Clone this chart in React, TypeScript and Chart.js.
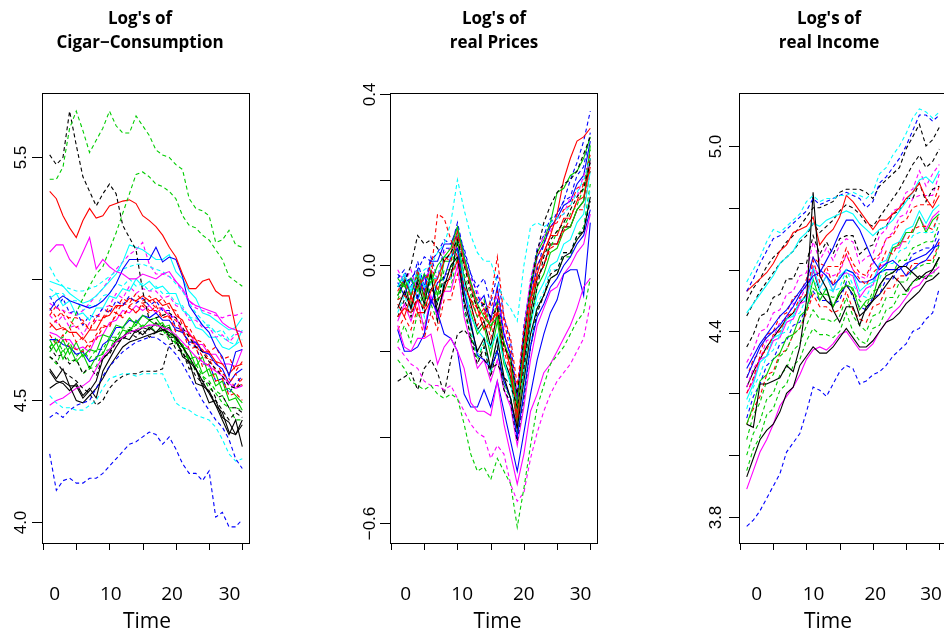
import React, { useEffect, useRef } from 'react';
import { Chart, registerables } from 'chart.js';

Chart.register(...registerables);

// ---------- DATA ----------
const time = [1, 2, 3, 4, 5, 6, 7, 8, 9, 10, 11, 12, 13, 14, 15, 16, 17, 18, 19, 20, 21, 22, 23, 24, 25, 26, 27, 28, 29, 30];

// Panel 1: log cigarette consumption
const cons01 = [5.41,5.41,5.46,5.62,5.69,5.61,5.52,5.57,5.62,5.69,5.63,5.60,5.60,5.67,5.63,5.59,5.53,5.51,5.50,5.47,5.45,5.33,5.29,5.28,5.26,5.15,5.16,5.20,5.14,5.13];
const cons02 = [5.51,5.47,5.50,5.69,5.55,5.42,5.36,5.30,5.35,5.39,5.35,5.22,5.17,5.12,4.95,4.83,4.84,4.85,4.86,4.84,4.80,4.76,4.72,4.70,4.66,4.63,4.60,4.56,4.55,4.57];
const cons03 = [4.72,4.75,4.76,4.80,4.86,4.92,4.97,5.02,5.05,5.12,5.19,5.27,5.35,5.43,5.44,5.42,5.39,5.38,5.36,5.33,5.26,5.22,5.21,5.18,5.16,5.12,5.08,5.01,4.99,4.97];
const cons04 = [5.36,5.33,5.26,5.21,5.17,5.24,5.29,5.25,5.26,5.30,5.31,5.32,5.325,5.31,5.26,5.24,5.215,5.18,5.13,5.09,5.02,4.96,4.96,4.99,5.00,4.95,4.93,4.93,4.80,4.72];
const cons05 = [5.11,5.14,5.14,5.08,5.05,5.11,5.17,5.04,5.08,5.05,5.03,5.02,5.00,5.00,5.02,5.01,5.00,5.02,5.03,4.99,4.96,4.91,4.89,4.88,4.87,4.86,4.82,4.80,4.79,4.78];
const cons06 = [4.28,4.13,4.17,4.18,4.16,4.16,4.18,4.18,4.20,4.23,4.26,4.29,4.32,4.33,4.35,4.37,4.36,4.32,4.35,4.30,4.24,4.20,4.20,4.17,4.21,4.02,4.04,3.98,3.98,4.01];
const cons07 = [4.43,4.45,4.43,4.46,4.48,4.49,4.50,4.55,4.60,4.64,4.67,4.70,4.72,4.74,4.75,4.76,4.76,4.74,4.72,4.69,4.65,4.60,4.55,4.50,4.46,4.42,4.39,4.34,4.26,4.22];
const cons08 = [4.52,4.49,4.47,4.47,4.46,4.46,4.48,4.50,4.55,4.59,4.60,4.61,4.61,4.60,4.61,4.61,4.61,4.61,4.55,4.49,4.47,4.46,4.44,4.43,4.42,4.39,4.34,4.28,4.25,4.26];
const cons09 = [4.68,4.66,4.62,4.60,4.58,4.55,4.53,4.48,4.50,4.55,4.58,4.60,4.61,4.61,4.62,4.62,4.62,4.63,4.73,4.74,4.70,4.65,4.60,4.57,4.53,4.50,4.46,4.42,4.45,4.43];
const cons10 = [4.55,4.57,4.58,4.56,4.50,4.49,4.52,4.55,4.59,4.64,4.68,4.72,4.74,4.75,4.76,4.77,4.78,4.79,4.78,4.76,4.72,4.68,4.63,4.58,4.53,4.48,4.42,4.36,4.42,4.31];
const cons11 = [4.48,4.50,4.51,4.53,4.55,4.56,4.58,4.63,4.68,4.71,4.74,4.76,4.78,4.79,4.80,4.81,4.81,4.80,4.79,4.77,4.74,4.71,4.68,4.66,4.64,4.62,4.60,4.57,4.55,4.56];
const cons12 = [4.87,4.91,4.93,4.91,4.90,4.89,4.88,4.89,4.91,4.94,4.98,5.04,5.08,5.08,5.08,5.08,5.13,5.07,5.09,5.08,5.01,4.89,4.85,4.81,4.78,4.72,4.68,4.60,4.70,4.71];
const cons13 = [4.99,4.98,4.97,4.94,4.92,4.90,4.91,4.93,4.96,4.99,5.02,5.07,5.14,5.13,5.12,5.10,5.08,5.08,5.10,5.03,5.00,4.95,4.92,4.86,4.85,4.83,4.81,4.79,4.80,4.84];
const cons14 = [5.05,5.00,4.97,4.96,4.95,4.95,4.96,4.97,4.99,5.01,5.03,5.04,5.05,5.06,5.06,5.05,5.04,5.03,5.01,4.98,4.95,4.90,4.86,4.83,4.80,4.78,4.76,4.74,4.73,4.75];
const cons15 = [4.90,4.88,4.87,4.86,4.85,4.87,4.90,4.93,4.96,5.00,5.04,5.07,5.10,5.12,5.15,5.06,5.02,5.02,5.01,4.99,4.95,4.91,4.88,4.87,4.86,4.85,4.84,4.85,4.85,4.86];
const cons16 = [4.88,4.84,4.87,4.83,4.80,4.82,4.79,4.85,4.84,4.89,4.88,4.92,4.90,4.94,4.91,4.93,4.90,4.92,4.88,4.87,4.81,4.80,4.75,4.74,4.70,4.72,4.67,4.68,4.62,4.66];
const cons17 = [4.80,4.83,4.79,4.80,4.74,4.76,4.72,4.77,4.81,4.80,4.86,4.84,4.89,4.86,4.89,4.86,4.89,4.84,4.85,4.78,4.79,4.71,4.72,4.64,4.65,4.58,4.59,4.52,4.53,4.50];
const cons18 = [4.75,4.70,4.75,4.69,4.74,4.68,4.71,4.70,4.77,4.76,4.81,4.80,4.84,4.81,4.85,4.83,4.84,4.80,4.81,4.74,4.73,4.67,4.68,4.61,4.63,4.56,4.58,4.50,4.51,4.46];
const cons19 = [4.70,4.74,4.67,4.72,4.66,4.69,4.63,4.68,4.69,4.75,4.74,4.79,4.78,4.83,4.80,4.83,4.81,4.82,4.77,4.77,4.72,4.71,4.64,4.68,4.60,4.61,4.54,4.55,4.52,4.49];
const cons20 = [4.62,4.58,4.57,4.54,4.57,4.52,4.55,4.51,4.62,4.67,4.72,4.76,4.75,4.79,4.77,4.80,4.78,4.81,4.76,4.76,4.68,4.66,4.57,4.56,4.49,4.50,4.43,4.41,4.36,4.40];
const cons21 = [4.72,4.68,4.69,4.65,4.67,4.61,4.64,4.60,4.68,4.69,4.74,4.75,4.78,4.76,4.79,4.76,4.78,4.77,4.77,4.71,4.70,4.63,4.63,4.58,4.57,4.51,4.52,4.47,4.47,4.45];
const cons22 = [4.92,4.94,4.89,4.91,4.85,4.86,4.83,4.88,4.88,4.93,4.92,4.96,4.95,5.00,4.97,4.99,4.96,4.97,4.94,4.94,4.87,4.85,4.80,4.79,4.76,4.76,4.72,4.71,4.73,4.79];
const cons23 = [4.93,4.88,4.92,4.86,4.87,4.81,4.85,4.84,4.88,4.86,4.91,4.89,4.93,4.90,4.92,4.89,4.91,4.87,4.87,4.80,4.79,4.73,4.72,4.65,4.65,4.58,4.59,4.53,4.57,4.60];
const cons24 = [4.85,4.82,4.85,4.80,4.81,4.77,4.82,4.83,4.88,4.89,4.94,4.92,4.97,4.94,4.96,4.95,4.95,4.92,4.93,4.89,4.88,4.83,4.83,4.80,4.80,4.76,4.77,4.74,4.77,4.78];
const cons25 = [4.77,4.73,4.77,4.72,4.71,4.70,4.74,4.75,4.80,4.81,4.85,4.85,4.88,4.86,4.90,4.87,4.87,4.84,4.85,4.80,4.79,4.74,4.73,4.68,4.67,4.62,4.62,4.57,4.61,4.56];
const cons26 = [4.68,4.65,4.71,4.66,4.67,4.61,4.63,4.64,4.70,4.71,4.76,4.76,4.80,4.79,4.81,4.80,4.81,4.78,4.78,4.73,4.72,4.66,4.65,4.60,4.58,4.54,4.52,4.47,4.47,4.46];
const cons27 = [4.75,4.75,4.73,4.72,4.69,4.70,4.66,4.67,4.73,4.75,4.80,4.80,4.83,4.82,4.85,4.84,4.86,4.83,4.83,4.79,4.78,4.74,4.74,4.70,4.69,4.65,4.63,4.57,4.61,4.63];
const cons28 = [4.63,4.59,4.63,4.56,4.56,4.51,4.54,4.58,4.67,4.70,4.75,4.76,4.79,4.78,4.80,4.79,4.82,4.79,4.80,4.75,4.73,4.66,4.63,4.56,4.54,4.48,4.45,4.37,4.36,4.42];
const cons29 = [4.96,4.94,4.94,4.91,4.91,4.87,4.89,4.89,4.93,4.94,4.98,4.97,5.00,4.97,4.98,4.95,4.97,4.94,4.94,4.90,4.89,4.84,4.84,4.81,4.81,4.78,4.79,4.75,4.78,4.79];
const cons30 = [4.82,4.79,4.80,4.78,4.78,4.75,4.79,4.79,4.84,4.85,4.89,4.89,4.92,4.91,4.93,4.91,4.92,4.89,4.90,4.85,4.83,4.77,4.75,4.70,4.70,4.66,4.65,4.61,4.64,4.65];
const cons31 = [4.78,4.77,4.75,4.75,4.71,4.72,4.70,4.76,4.77,4.82,4.83,4.87,4.86,4.89,4.87,4.89,4.86,4.88,4.85,4.84,4.79,4.78,4.73,4.73,4.69,4.69,4.65,4.65,4.64,4.71];
const cons32 = [4.72,4.76,4.70,4.74,4.68,4.71,4.67,4.71,4.71,4.76,4.76,4.80,4.79,4.81,4.80,4.81,4.78,4.79,4.75,4.74,4.69,4.67,4.62,4.60,4.55,4.53,4.49,4.47,4.42,4.42];
const cons33 = [4.85,4.89,4.85,4.84,4.84,4.83,4.79,4.83,4.83,4.87,4.86,4.90,4.89,4.91,4.90,4.91,4.88,4.88,4.84,4.83,4.78,4.77,4.72,4.71,4.67,4.66,4.61,4.59,4.55,4.59];

const consSeries = [cons01,cons02,cons03,cons04,cons05,cons06,cons07,cons08,cons09,cons10,cons11,cons12,cons13,cons14,cons15,cons16,cons17,cons18,cons19,cons20,cons21,cons22,cons23,cons24,cons25,cons26,cons27,cons28,cons29,cons30,cons31,cons32,cons33];
const consColors = ['green','black','green','red','magenta','blue','blue','cyan','black','black','magenta','blue','cyan','cyan','magenta','red','red','green','green','black','black','cyan','blue','magenta','red','green','blue','black','cyan','red','magenta','green','red'];
const consDashed = [1,1,1,0,0,1,1,1,1,0,0,0,0,1,1,1,1,0,0,0,1,0,1,1,1,1,0,0,1,0,0,1,1];

// Panel 2: log real prices
const price01 = [-0.22,-0.24,-0.27,-0.28,-0.29,-0.28,-0.30,-0.31,-0.30,-0.31,-0.37,-0.44,-0.48,-0.47,-0.50,-0.45,-0.48,-0.51,-0.61,-0.52,-0.42,-0.33,-0.28,-0.23,-0.21,-0.19,-0.16,-0.13,-0.11,-0.03];
const price02 = [-0.19,-0.21,-0.23,-0.24,-0.27,-0.28,-0.28,-0.29,-0.28,-0.31,-0.34,-0.37,-0.39,-0.40,-0.45,-0.42,-0.44,-0.51,-0.55,-0.53,-0.45,-0.39,-0.34,-0.30,-0.27,-0.25,-0.23,-0.20,-0.17,-0.09];
const price03 = [-0.14,-0.19,-0.20,-0.17,-0.17,-0.16,-0.23,-0.19,-0.17,-0.20,-0.24,-0.32,-0.34,-0.34,-0.35,-0.27,-0.37,-0.44,-0.51,-0.44,-0.34,-0.30,-0.25,-0.23,-0.20,-0.17,-0.14,-0.10,-0.05,-0.03];
const price04 = [-0.15,-0.20,-0.20,-0.19,-0.16,-0.08,-0.11,-0.16,-0.17,-0.20,-0.30,-0.33,-0.33,-0.29,-0.33,-0.27,-0.34,-0.41,-0.48,-0.39,-0.30,-0.22,-0.16,-0.11,-0.08,-0.02,-0.01,-0.01,-0.07,0.10];
const price05 = [-0.27,-0.26,-0.25,-0.29,-0.24,-0.22,-0.25,-0.30,-0.22,-0.16,-0.15,-0.17,-0.20,-0.22,-0.24,-0.23,-0.26,-0.28,-0.33,-0.24,-0.13,-0.05,0.02,0.06,0.08,0.10,0.13,0.16,0.18,0.24];
const price06 = [-0.05,-0.03,-0.05,-0.03,-0.01,0.00,0.03,0.05,0.10,0.20,0.13,0.07,0.03,0.01,0.01,-0.04,-0.08,-0.10,-0.13,0.00,0.09,0.10,0.09,0.10,0.11,0.12,0.14,0.17,0.20,0.25];
const price07 = [-0.08,-0.07,-0.09,-0.05,-0.03,-0.02,0.12,0.11,0.06,0.02,-0.05,-0.08,-0.10,-0.13,-0.08,0.02,-0.12,-0.17,-0.28,-0.15,-0.07,-0.03,0.00,0.04,0.05,0.08,0.11,0.15,0.19,0.22];
const price08 = [-0.05,-0.04,0.00,0.07,0.05,0.06,0.04,0.01,0.03,0.06,0.00,-0.06,-0.10,-0.09,-0.12,-0.10,-0.19,-0.22,-0.30,-0.17,-0.05,0.03,0.10,0.14,0.17,0.19,0.20,0.22,0.26,0.30];
const price09 = [-0.03,-0.05,-0.03,-0.06,-0.02,-0.04,0.00,0.02,0.04,0.09,0.02,-0.04,-0.09,-0.12,-0.14,-0.12,-0.18,-0.22,-0.33,-0.18,-0.05,0.03,0.06,0.10,0.17,0.18,0.21,0.22,0.25,0.30];
const price10 = [-0.12,-0.10,-0.11,-0.08,-0.10,-0.06,-0.03,0.01,0.03,0.08,0.01,-0.05,-0.10,-0.15,-0.13,-0.11,-0.18,-0.24,-0.35,-0.20,-0.08,-0.02,0.03,0.07,0.12,0.20,0.25,0.29,0.30,0.32];
const price11 = [-0.02,-0.04,-0.03,-0.01,0.02,0.01,0.03,0.06,0.05,0.07,0.04,-0.02,-0.07,-0.10,-0.12,-0.08,-0.16,-0.21,-0.31,-0.16,-0.06,-0.01,0.05,0.10,0.12,0.15,0.20,0.24,0.29,0.36];
const price12 = [-0.10,-0.06,-0.10,-0.04,-0.09,-0.02,-0.11,-0.05,0.00,0.02,-0.08,-0.14,-0.20,-0.17,-0.24,-0.17,-0.26,-0.31,-0.38,-0.27,-0.16,-0.10,-0.07,-0.03,-0.02,0.02,0.03,0.06,0.08,0.16];
const price13 = [-0.06,-0.03,-0.08,-0.01,-0.07,0.01,-0.06,0.02,0.01,0.07,0.00,-0.04,-0.08,-0.09,-0.10,-0.06,-0.13,-0.20,-0.32,-0.17,-0.05,0.02,0.05,0.09,0.10,0.13,0.14,0.18,0.19,0.26];
const price14 = [-0.08,-0.04,-0.09,-0.05,-0.10,-0.03,-0.08,-0.01,-0.01,0.06,-0.02,-0.07,-0.12,-0.08,-0.15,-0.08,-0.18,-0.23,-0.36,-0.20,-0.09,-0.02,0.03,0.04,0.08,0.09,0.12,0.14,0.18,0.27];
const price15 = [-0.05,-0.02,-0.06,-0.01,-0.05,-0.03,-0.03,0.02,0.02,0.08,-0.04,-0.12,-0.15,-0.17,-0.19,-0.16,-0.22,-0.28,-0.34,-0.24,-0.14,-0.07,-0.04,0.00,0.01,0.05,0.06,0.10,0.12,0.22];
const price16 = [-0.04,-0.07,-0.03,-0.08,-0.02,-0.09,-0.04,-0.03,0.02,0.04,-0.06,-0.13,-0.21,-0.22,-0.24,-0.20,-0.27,-0.31,-0.40,-0.30,-0.19,-0.12,-0.09,-0.05,-0.03,0.00,0.02,0.05,0.07,0.13];
const price17 = [-0.01,-0.04,-0.01,-0.06,-0.03,-0.01,-0.03,0.03,0.04,0.04,0.01,-0.03,-0.06,-0.10,-0.12,-0.07,-0.15,-0.22,-0.30,-0.15,-0.03,0.03,0.07,0.08,0.11,0.12,0.16,0.16,0.21,0.24];
const price18 = [-0.12,-0.08,-0.12,-0.07,-0.11,-0.05,-0.09,-0.02,-0.02,0.05,-0.09,-0.17,-0.23,-0.19,-0.26,-0.19,-0.29,-0.32,-0.41,-0.31,-0.19,-0.11,-0.07,-0.02,-0.01,0.03,0.03,0.07,0.08,0.15];
const price19 = [-0.09,-0.12,-0.07,-0.11,-0.11,-0.08,-0.08,-0.06,-0.02,0.01,-0.05,-0.08,-0.12,-0.10,-0.15,-0.09,-0.18,-0.24,-0.37,-0.21,-0.08,0.00,0.03,0.07,0.07,0.11,0.11,0.15,0.16,0.23];
const price20 = [-0.07,-0.03,-0.07,-0.02,-0.08,-0.01,-0.07,0.01,0.01,0.07,-0.06,-0.11,-0.16,-0.14,-0.21,-0.13,-0.23,-0.27,-0.36,-0.25,-0.13,-0.05,-0.02,0.03,0.04,0.08,0.09,0.13,0.15,0.28];
const price21 = [-0.03,-0.01,-0.05,0.01,-0.05,0.02,-0.03,0.04,0.04,0.10,0.03,-0.02,-0.05,-0.03,-0.09,-0.02,-0.12,-0.18,-0.31,-0.14,-0.04,0.04,0.07,0.11,0.12,0.15,0.16,0.21,0.23,0.31];
const price22 = [-0.11,-0.07,-0.11,-0.05,-0.12,-0.04,-0.09,-0.03,-0.03,0.03,-0.10,-0.15,-0.21,-0.18,-0.25,-0.17,-0.27,-0.31,-0.40,-0.29,-0.18,-0.09,-0.06,-0.01,-0.01,0.03,0.03,0.07,0.08,0.18];
const price23 = [-0.13,-0.09,-0.13,-0.08,-0.15,-0.07,-0.12,-0.06,-0.06,0.00,-0.12,-0.18,-0.24,-0.22,-0.27,-0.22,-0.29,-0.33,-0.42,-0.33,-0.22,-0.14,-0.10,-0.06,-0.05,-0.02,0.00,0.03,0.05,0.12];
const price24 = [-0.15,-0.12,-0.15,-0.10,-0.17,-0.11,-0.15,-0.08,-0.08,-0.02,-0.07,-0.10,-0.14,-0.11,-0.17,-0.11,-0.20,-0.25,-0.38,-0.22,-0.10,-0.03,0.00,0.05,0.05,0.09,0.09,0.13,0.13,0.22];
const price25 = [-0.07,-0.04,-0.10,-0.03,-0.07,-0.02,-0.13,-0.04,-0.03,0.06,-0.03,-0.09,-0.15,-0.13,-0.19,-0.11,-0.22,-0.26,-0.37,-0.23,-0.11,-0.03,0.00,0.05,0.05,0.09,0.09,0.13,0.15,0.25];
const price26 = [-0.18,-0.14,-0.18,-0.11,-0.14,-0.09,-0.13,-0.05,-0.05,0.02,-0.11,-0.16,-0.22,-0.18,-0.25,-0.20,-0.28,-0.31,-0.39,-0.30,-0.19,-0.10,-0.07,-0.03,-0.02,0.02,0.02,0.07,0.09,0.19];
const price27 = [-0.05,-0.02,-0.07,-0.01,-0.06,0.01,0.01,0.05,0.05,0.09,0.02,-0.04,-0.09,-0.07,-0.13,-0.05,-0.16,-0.21,-0.33,-0.17,-0.06,0.02,0.05,0.09,0.11,0.14,0.15,0.19,0.21,0.29];

const priceSeries = [price01,price02,price03,price04,price05,price06,price07,price08,price09,price10,price11,price12,price13,price14,price15,price16,price17,price18,price19,price20,price21,price22,price23,price24,price25,price26,price27];
const priceColors = ['green','magenta','magenta','blue','black','cyan','red','black','green','red','blue','black','red','green','cyan','blue','magenta','black','red','green','blue','cyan','magenta','red','black','green','blue'];
const priceDashed = [1,1,0,0,1,1,1,1,0,0,1,0,1,1,0,0,1,1,0,0,1,1,0,1,0,1,0];

// Panel 3: log real income
const inc01 = [3.77,3.79,3.82,3.86,3.90,3.94,4.01,4.04,4.07,4.14,4.22,4.21,4.19,4.23,4.27,4.29,4.28,4.23,4.24,4.26,4.27,4.29,4.32,4.34,4.36,4.40,4.41,4.44,4.46,4.54];
const inc02 = [4.56,4.60,4.64,4.69,4.73,4.72,4.74,4.76,4.78,4.82,4.84,4.82,4.83,4.83,4.84,4.84,4.85,4.84,4.83,4.85,4.91,4.93,4.97,5.00,5.04,5.09,5.12,5.11,5.09,5.11];
const inc03 = [4.53,4.57,4.62,4.66,4.70,4.71,4.73,4.75,4.77,4.79,4.83,4.81,4.82,4.83,4.84,4.85,4.84,4.83,4.80,4.82,4.88,4.90,4.93,4.96,5.00,5.05,5.10,5.10,5.08,5.10];
const inc04 = [4.10,4.09,4.23,4.23,4.24,4.25,4.29,4.27,4.35,4.50,4.85,4.58,4.54,4.47,4.43,4.48,4.48,4.42,4.48,4.50,4.55,4.58,4.59,4.61,4.61,4.59,4.57,4.59,4.60,4.64];
const inc05 = [3.93,3.99,4.05,4.08,4.10,4.14,4.20,4.22,4.29,4.32,4.35,4.33,4.33,4.35,4.38,4.41,4.38,4.35,4.35,4.37,4.40,4.43,4.44,4.46,4.49,4.51,4.53,4.56,4.57,4.59];
const inc06 = [3.89,3.95,4.01,4.05,4.10,4.16,4.19,4.22,4.26,4.31,4.34,4.35,4.34,4.36,4.39,4.40,4.37,4.34,4.34,4.36,4.40,4.43,4.46,4.48,4.51,4.54,4.55,4.58,4.59,4.61];
const inc07 = [4.53,4.55,4.57,4.59,4.62,4.66,4.68,4.72,4.73,4.74,4.77,4.68,4.71,4.73,4.77,4.84,4.82,4.79,4.76,4.73,4.76,4.76,4.78,4.80,4.83,4.85,4.88,4.83,4.80,4.84];
const inc08 = [4.46,4.49,4.52,4.55,4.58,4.62,4.64,4.66,4.70,4.72,4.75,4.74,4.76,4.77,4.78,4.79,4.78,4.75,4.73,4.71,4.73,4.74,4.76,4.79,4.82,4.85,4.89,4.90,4.88,4.92];
const inc09 = [4.25,4.30,4.35,4.38,4.40,4.42,4.45,4.48,4.52,4.55,4.58,4.59,4.63,4.67,4.72,4.76,4.76,4.73,4.68,4.63,4.60,4.62,4.63,4.61,4.58,4.60,4.62,4.63,4.66,4.70];
const inc10 = [4.50,4.54,4.57,4.61,4.64,4.66,4.69,4.71,4.74,4.77,4.80,4.80,4.81,4.82,4.85,4.86,4.86,4.86,4.85,4.83,4.87,4.89,4.91,4.93,4.99,5.03,5.07,5.00,5.02,5.06];
const inc11 = [4.45,4.49,4.53,4.56,4.59,4.62,4.64,4.66,4.69,4.71,4.75,4.72,4.74,4.76,4.79,4.81,4.80,4.78,4.75,4.74,4.77,4.80,4.83,4.86,4.90,4.94,4.97,4.93,4.95,4.99];
const inc12 = [4.20,4.25,4.32,4.34,4.39,4.40,4.45,4.46,4.51,4.52,4.63,4.56,4.61,4.55,4.60,4.65,4.60,4.57,4.55,4.59,4.61,4.66,4.65,4.69,4.69,4.73,4.74,4.74,4.73,4.78];
const inc13 = [4.05,4.13,4.17,4.24,4.26,4.32,4.34,4.39,4.41,4.47,4.54,4.52,4.52,4.51,4.52,4.58,4.53,4.50,4.48,4.53,4.54,4.59,4.59,4.63,4.63,4.67,4.68,4.69,4.69,4.75];
const inc14 = [4.30,4.34,4.40,4.41,4.46,4.47,4.52,4.53,4.58,4.59,4.69,4.63,4.67,4.63,4.68,4.70,4.69,4.62,4.64,4.65,4.71,4.73,4.79,4.80,4.85,4.86,4.92,4.87,4.91,4.94];
const inc15 = [4.15,4.22,4.26,4.32,4.34,4.39,4.40,4.45,4.46,4.51,4.57,4.53,4.54,4.53,4.54,4.60,4.55,4.52,4.51,4.56,4.57,4.62,4.62,4.66,4.67,4.71,4.72,4.72,4.72,4.78];
const inc16 = [4.28,4.32,4.36,4.39,4.42,4.45,4.47,4.50,4.53,4.56,4.64,4.60,4.58,4.55,4.57,4.60,4.59,4.56,4.56,4.57,4.59,4.60,4.60,4.60,4.62,4.63,4.64,4.65,4.67,4.68];
const inc17 = [4.10,4.16,4.24,4.26,4.31,4.33,4.38,4.39,4.45,4.47,4.57,4.50,4.54,4.48,4.53,4.55,4.54,4.47,4.50,4.51,4.59,4.61,4.67,4.68,4.72,4.72,4.77,4.72,4.76,4.78];
const inc18 = [4.10,4.15,4.19,4.26,4.27,4.33,4.34,4.39,4.41,4.46,4.52,4.48,4.48,4.46,4.47,4.53,4.47,4.44,4.43,4.48,4.49,4.54,4.54,4.58,4.58,4.62,4.62,4.63,4.63,4.69];
const inc19 = [4.35,4.39,4.45,4.46,4.51,4.52,4.57,4.57,4.62,4.62,4.71,4.65,4.69,4.65,4.70,4.71,4.71,4.65,4.67,4.68,4.73,4.74,4.78,4.79,4.83,4.83,4.88,4.82,4.86,4.87];
const inc20 = [4.00,4.07,4.11,4.18,4.20,4.26,4.28,4.34,4.36,4.42,4.47,4.44,4.44,4.43,4.45,4.51,4.45,4.42,4.40,4.45,4.46,4.51,4.51,4.56,4.56,4.60,4.61,4.62,4.62,4.68];
const inc21 = [4.22,4.28,4.31,4.37,4.38,4.43,4.44,4.49,4.50,4.55,4.61,4.58,4.59,4.58,4.59,4.65,4.60,4.58,4.57,4.62,4.64,4.70,4.72,4.77,4.78,4.83,4.84,4.84,4.84,4.91];
const inc22 = [4.18,4.23,4.30,4.32,4.38,4.39,4.44,4.45,4.50,4.51,4.61,4.54,4.58,4.53,4.58,4.60,4.59,4.53,4.55,4.56,4.62,4.63,4.68,4.69,4.73,4.74,4.79,4.75,4.79,4.81];
const inc23 = [4.25,4.31,4.33,4.39,4.40,4.45,4.46,4.51,4.52,4.57,4.64,4.62,4.61,4.61,4.61,4.67,4.62,4.59,4.58,4.63,4.65,4.70,4.71,4.75,4.76,4.80,4.81,4.81,4.81,4.87];
const inc24 = [3.95,4.02,4.06,4.13,4.15,4.21,4.23,4.29,4.31,4.37,4.41,4.39,4.39,4.38,4.40,4.46,4.40,4.37,4.36,4.41,4.42,4.47,4.48,4.52,4.52,4.56,4.57,4.58,4.58,4.64];
const inc25 = [4.20,4.24,4.31,4.32,4.37,4.38,4.43,4.44,4.49,4.50,4.60,4.54,4.58,4.53,4.58,4.59,4.58,4.51,4.54,4.55,4.61,4.62,4.67,4.67,4.72,4.72,4.77,4.73,4.77,4.79];
const inc26 = [4.12,4.19,4.23,4.29,4.31,4.36,4.37,4.42,4.43,4.48,4.53,4.50,4.50,4.49,4.50,4.56,4.51,4.48,4.47,4.51,4.52,4.57,4.57,4.61,4.61,4.65,4.66,4.67,4.67,4.73];
const inc27 = [4.22,4.27,4.31,4.35,4.38,4.41,4.44,4.46,4.49,4.52,4.60,4.53,4.50,4.48,4.52,4.55,4.52,4.45,4.47,4.50,4.52,4.55,4.58,4.56,4.53,4.56,4.58,4.57,4.60,4.64];

const incSeries = [inc01,inc02,inc03,inc04,inc05,inc06,inc07,inc08,inc09,inc10,inc11,inc12,inc13,inc14,inc15,inc16,inc17,inc18,inc19,inc20,inc21,inc22,inc23,inc24,inc25,inc26,inc27];
const incColors = ['blue','cyan','blue','black','black','magenta','red','cyan','blue','black','black','red','green','magenta','cyan','blue','green','red','black','green','magenta','cyan','red','green','magenta','blue','black'];
const incDashed = [1,1,1,0,0,0,0,0,0,1,1,1,1,1,1,0,0,1,1,1,1,0,1,1,0,1,0];

// Axis ticks / labels
const xTicks = [0, 5, 10, 15, 20, 25, 30];
const xLabels = ['0', '10', '20', '30'];
const consTicks = [4.0, 4.5, 5.0, 5.5];
const consTickLabels = ['4.0', '4.5', '', '5.5'];
const priceTicks = [-0.6, -0.4, -0.2, 0.0, 0.2, 0.4];
const priceTickLabels = ['\u22120.6', '', '', '0.0', '', '0.4'];
const incTicks = [3.8, 4.0, 4.2, 4.4, 4.6, 4.8, 5.0];
const incTickLabels = ['3.8', '', '', '4.4', '', '', '5.0'];

// ---------- STYLE / LAYOUT ----------
const palette: Record<string, string> = {
  black: '#000000', red: '#FF0000', green: '#00CD00', blue: '#0000FF', cyan: '#00FFFF', magenta: '#FF00FF',
};

type PanelDef = {
  series: number[][]; colors: string[]; dashed: number[];
  yMin: number; yMax: number; yTicks: number[]; yTickLabels: string[];
  boxLeft: number; labelOffset: number;
  title2: string; titleX: number; timeX: number; xLabelX: number[];
};

const panels: PanelDef[] = [
  { series: consSeries, colors: consColors, dashed: consDashed, yMin: 3.9095, yMax: 5.7647,
    yTicks: consTicks, yTickLabels: consTickLabels, boxLeft: 42, labelOffset: 22,
    title2: 'Cigar\u2212Consumption', titleX: 140, timeX: 147, xLabelX: [54.7, 110.8, 172, 229.5] },
  { series: priceSeries, colors: priceColors, dashed: priceDashed, yMin: -0.6497, yMax: 0.4023,
    yTicks: priceTicks, yTickLabels: priceTickLabels, boxLeft: 390, labelOffset: 21,
    title2: 'real Prices', titleX: 494, timeX: 497.5, xLabelX: [405.8, 462.2, 523.8, 580.5] },
  { series: incSeries, colors: incColors, dashed: incDashed, yMin: 3.7127, yMax: 5.1713,
    yTicks: incTicks, yTickLabels: incTickLabels, boxLeft: 739, labelOffset: 24,
    title2: 'real Income', titleX: 829, timeX: 828, xLabelX: [756.8, 813.5, 875.3, 931] },
];

const CANVAS_W = 300;
const CANVAS_H = 635;
const BOX_W = 208;
const BOX_TOP = 93;
const BOX_BOTTOM = 544;

function makeAxesPlugin(def: PanelDef) {
  return {
    id: 'rAxes',
    afterDraw(chart: any) {
      const { ctx, chartArea: a, scales } = chart;
      const x = scales.x;
      const y = scales.y;
      ctx.save();
      ctx.strokeStyle = '#000';
      ctx.lineWidth = 1;
      ctx.setLineDash([]);
      ctx.strokeRect(a.left + 0.5, a.top + 0.5, a.right - a.left - 1, a.bottom - a.top - 1);
      ctx.fillStyle = '#000';
      ctx.font = "17px 'Liberation Sans', Arial, sans-serif";
      ctx.textAlign = 'center';
      ctx.textBaseline = 'middle';
      def.yTicks.forEach((v, i) => {
        const py = Math.round(y.getPixelForValue(v)) + 0.5;
        ctx.beginPath();
        ctx.moveTo(a.left - 10, py);
        ctx.lineTo(a.left + 0.5, py);
        ctx.stroke();
        const lab = def.yTickLabels[i];
        if (lab) {
          ctx.save();
          ctx.translate(a.left - def.labelOffset, py);
          ctx.rotate(-Math.PI / 2);
          ctx.fillText(lab, 0, 1);
          ctx.restore();
        }
      });
      xTicks.forEach((t) => {
        const px = Math.round(x.getPixelForValue(t)) + 0.5;
        ctx.beginPath();
        ctx.moveTo(px, a.bottom);
        ctx.lineTo(px, a.bottom + 6);
        ctx.stroke();
      });
      ctx.restore();
    },
  };
}

function Panel({ def }: { def: PanelDef }) {
  const ref = useRef<HTMLCanvasElement>(null);
  useEffect(() => {
    if (!ref.current) return;
    const datasets = def.series.map((s, k) => ({
      data: time.map((t, i) => ({ x: t, y: s[i] })),
      borderColor: palette[def.colors[k]],
      borderWidth: 1.1,
      borderDash: def.dashed[k] ? [4, 3] : [],
      pointRadius: 0,
      fill: false,
      tension: 0,
    }));
    const chart = new Chart(ref.current, {
      type: 'line',
      data: { datasets },
      options: {
        animation: false,
        responsive: false,
        maintainAspectRatio: false,
        events: [],
        layout: {
          padding: { left: 42, top: BOX_TOP, right: CANVAS_W - 42 - BOX_W, bottom: CANVAS_H - BOX_BOTTOM },
        },
        scales: {
          x: { type: 'linear', min: -0.16, max: 31.16, display: false },
          y: { type: 'linear', min: def.yMin, max: def.yMax, display: false },
        },
        plugins: { legend: { display: false }, tooltip: { enabled: false } },
      },
      plugins: [makeAxesPlugin(def)],
    } as any);
    return () => chart.destroy();
  }, [def]);
  return (
    <canvas
      ref={ref}
      width={CANVAS_W}
      height={CANVAS_H}
      style={{ position: 'absolute', left: def.boxLeft - 42, top: 0, width: CANVAS_W, height: CANVAS_H }}
    />
  );
}

const textBase: React.CSSProperties = {
  position: 'absolute',
  transform: 'translate(-50%, -50%)',
  whiteSpace: 'nowrap',
  lineHeight: 1,
  color: '#000',
  fontFamily: "'Open Sans', sans-serif",
};

export default function App() {
  return (
    <div style={{ position: 'fixed', left: 0, top: 0, width: 944, height: 635, overflow: 'hidden', background: '#fff' }}>
      {panels.map((p, i) => (
        <React.Fragment key={i}>
          <Panel def={p} />
          <div style={{ ...textBase, left: p.titleX, top: 17, fontSize: 17, fontWeight: 700 }}>Log's of</div>
          <div style={{ ...textBase, left: p.titleX, top: 41, fontSize: 17, fontWeight: 700 }}>{p.title2}</div>
          {xLabels.map((l, j) => (
            <div key={j} style={{ ...textBase, left: p.xLabelX[j], top: 593, fontSize: 19 }}>{l}</div>
          ))}
          <div style={{ ...textBase, left: p.timeX, top: 620, fontSize: 21 }}>Time</div>
        </React.Fragment>
      ))}
    </div>
  );
}
